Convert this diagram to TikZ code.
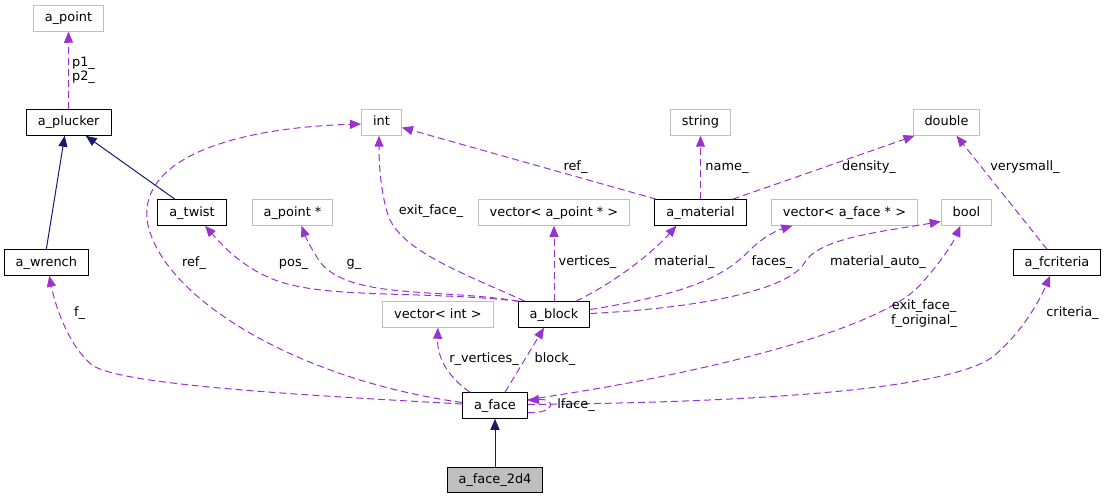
\documentclass[tikz,border=0pt]{standalone}
\usepackage{fontspec}
\setmainfont{DejaVu Sans}
\usetikzlibrary{arrows.meta}
\definecolor{memberc}{HTML}{9A32CD}
\definecolor{inheritc}{HTML}{191970}
\definecolor{extc}{HTML}{BFBFBF}

\begin{document}
\begin{tikzpicture}[x=1pt,y=-1pt,font=\fontsize{12.9}{14.5}\selectfont,
  box/.style={rectangle,minimum height=25.5pt,inner xsep=11.5pt,inner ysep=0pt,text height=9.5pt,text depth=2.5pt,line width=1pt},
  cls/.style={box,draw=black},
  ext/.style={box,draw=extc},
  cur/.style={box,draw=black,fill=extc},
  member/.style={draw=memberc,line width=1pt,dash pattern=on 7pt off 4pt,-{Triangle[length=11pt,width=9pt]}},
  inherit/.style={draw=inheritc,line width=1pt,-{Triangle[length=11pt,width=9pt]}},
  lbl/.style={inner sep=0pt,text height=9.5pt,text depth=2.5pt},
  lbltwo/.style={inner sep=0pt,align=center}]
\useasboundingbox (0,0) rectangle (1106,500);

% classes and types
\node[ext] (apoint) at (68.5,18.5) {a\_point};
\node[cls] (plucker) at (68.7,122.5) {a\_plucker};
\node[ext] (int) at (381.5,122.5) {int};
\node[ext] (string) at (700.5,122.5) {string};
\node[ext] (double) at (946.5,122.5) {double};
\node[cls] (twist) at (192,212.5) {a\_twist};
\node[ext] (apointptr) at (292.5,212.5) {a\_point *};
\node[ext] (vecapoint) at (554,212.5) {vector< a\_point * >};
\node[cls] (material) at (700.5,212.5) {a\_material};
\node[ext] (vecaface) at (844.5,212.5) {vector< a\_face * >};
\node[ext] (bool) at (966.5,212.5) {bool};
\node[cls] (wrench) at (46.3,262.5) {a\_wrench};
\node[cls] (fcriteria) at (1057,262.5) {a\_fcriteria};
\node[ext] (vecint) at (437.9,314.5) {vector< int >};
\node[cls] (block) at (554,314.5) {a\_block};
\node[cls] (face) at (495,405.5) {a\_face};
\node[cur] (face2d4) at (495,480) {a\_face\_2d4};

% inheritance
\draw[inherit] (wrench.north) -- ([xshift=-4pt]plucker.south);
\draw[inherit] ([xshift=-17pt]twist.north) -- ([xshift=17pt]plucker.south);
\draw[inherit] (face2d4) -- (face);

% members
\draw[member] (plucker) -- (apoint);
\draw[member] ([yshift=1.5pt]face.west) .. controls (300,395) and (120,385) .. (92,365) .. controls (68,345) and (55,305) .. ([xshift=3pt]wrench.south);
\draw[member] ([yshift=3pt]face.west) .. controls (300,380) and (165,300) .. (148,225) .. controls (135,160) and (230,128) .. ([yshift=-1.5pt]int.west);
\draw[member] ([xshift=1pt]block.north west) .. controls (420,290) and (320,300) .. (270,278) .. controls (240,265) and (222,245) .. ([xshift=13pt]twist.south);
\draw[member] ([xshift=1pt]block.north west) .. controls (440,288) and (350,300) .. (320,262) .. controls (312,250) and (306,238) .. ([xshift=9pt]apointptr.south);
\draw[member] ([xshift=-29pt]block.north) .. controls (460,272) and (400,250) .. (388,215) .. controls (380,190) and (379,160) .. ([xshift=-2.5pt]int.south);
\draw[member] (block) -- (vecapoint);
\draw[member] ([xshift=22pt]block.north) .. controls (615,282) and (650,255) .. ([xshift=-24pt]material.south);
\draw[member] ([yshift=5pt]block.east) .. controls (700,292) and (728,272) .. (750,250) .. controls (762,238) and (775,231) .. ([xshift=-52pt]vecaface.south);
\draw[member] ([yshift=1pt]block.east) .. controls (700,308) and (790,290) .. (805,262) .. controls (820,238) and (880,232) .. ([yshift=-9pt]bool.west);
\draw[member] ([xshift=2pt]material.north west) -- ([yshift=-5pt]int.east);
\draw[member] (material) -- (string);
\draw[member] ([xshift=-14pt]material.north east) -- ([xshift=2pt]double.south west);
\draw[member] ([xshift=-10pt]fcriteria.north) -- ([xshift=10pt]double.south);
\draw[member] ([xshift=-25pt]face.north) .. controls (450,378) and (437,360) .. (vecint.south);
\draw[member] ([xshift=10pt]face.north) -- ([xshift=-10pt]block.south);
\draw[member] ([yshift=6pt]face.east) .. controls (700,375) and (880,330) .. (920,285) .. controls (940,263) and (952,245) .. ([xshift=-6pt]bool.south);
\draw[member] ([yshift=1pt]face.east) .. controls (800,402) and (960,385) .. (995,355) .. controls (1022,332) and (1040,300) .. ([xshift=-7pt]fcriteria.south);
\draw[member] ([yshift=-7pt]face.east) .. controls (556,414) and (556,398) .. ([yshift=5pt]face.east);

% member names
\node[lbltwo] (lpoints) at (83.5,70.5) {p1\_\\p2\_};
\node[lbl] (lfaceref) at (194,263) {ref\_};
\node[lbl] (lpos) at (293.6,263) {pos\_};
\node[lbl] (lg) at (354,263) {g\_};
\node[lbl] (lf) at (79.6,313) {f\_};
\node[lbl] (lexit) at (431,211) {exit\_face\_};
\node[lbl] (lvert) at (587.5,262) {vertices\_};
\node[lbl] (lmat) at (684.5,262) {material\_};
\node[lbl] (lfaces) at (772,262) {faces\_};
\node[lbl] (lmatauto) at (878,262) {material\_auto\_};
\node[lbl] (lmatref) at (575.5,167) {ref\_};
\node[lbl] (lname) at (727,167) {name\_};
\node[lbl] (ldens) at (869,167) {density\_};
\node[lbl] (lvery) at (1025,167) {verysmall\_};
\node[lbltwo] (lexitorig) at (924,313.7) {exit\_face\_\\f\_original\_};
\node[lbl] (lcrit) at (1072.5,313) {criteria\_};
\node[lbl] (lrvert) at (484,359.3) {r\_vertices\_};
\node[lbl] (lblock) at (555,359.3) {block\_};
\node[lbl] (llface) at (576,405) {lface\_};
\end{tikzpicture}
\end{document}
